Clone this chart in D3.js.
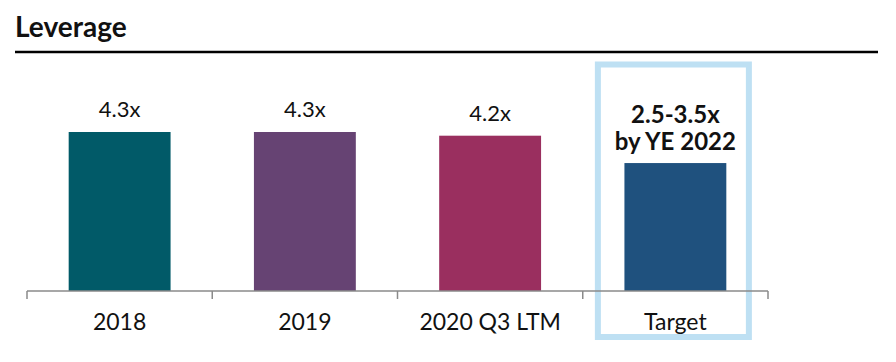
<!DOCTYPE html>
<html>
<head>
<meta charset="utf-8">
<script src="https://cdn.jsdelivr.net/npm/d3@7"></script>
<style>
  body { margin: 0; background: #fff; }
  text { font-family: Lato, "Open Sans", sans-serif; fill: #111; }
</style>
</head>
<body>
<svg id="chart" width="896" height="362"></svg>
<script>
"use strict";

// chart data
const categories = ["2018", "2019", "2020 Q3 LTM", "Target"];
const leverage = [4.3, 4.3, 4.2, 3.46];
const valueLabels = ["4.3x", "4.3x", "4.2x", null];
const targetLabel = ["2.5-3.5x", "by YE 2022"];
const barColors = ["#015a68", "#664373", "#9a2f5f", "#1f517e"];

const svg = d3.select("#chart");

// title + rule
svg.append("text")
    .attr("x", 15)
    .attr("y", 37)
    .attr("font-size", 28)
    .attr("font-weight", 700)
    .text("Leverage");

svg.append("line")
    .attr("x1", 15).attr("x2", 878)
    .attr("y1", 52).attr("y2", 52)
    .attr("stroke", "#000")
    .attr("stroke-width", 2.5);

const baseY = 291;

const x = d3.scaleBand()
    .domain(categories)
    .range([27, 768])
    .paddingInner(0.45)
    .paddingOuter(0.225);

const y = d3.scaleLinear()
    .domain([0, 4.3])
    .range([baseY, 132]);

// highlight box behind target
const tgt = categories[3];
const step = x.step();
const tx0 = x(tgt) + x.bandwidth() / 2;

svg.append("rect")
    .attr("x", tx0 - 77.5)
    .attr("y", 64.5)
    .attr("width", 151)
    .attr("height", 272.5)
    .attr("fill", "none")
    .attr("stroke", "#bee0f3")
    .attr("stroke-width", 6);

svg.selectAll(".bar")
    .data(categories)
    .enter().append("rect")
    .attr("class", "bar")
    .attr("x", d => x(d))
    .attr("width", x.bandwidth())
    .attr("y", (d, i) => y(leverage[i]))
    .attr("height", (d, i) => baseY - y(leverage[i]))
    .attr("fill", (d, i) => barColors[i]);

// axis
const axis = svg.append("g")
    .attr("transform", `translate(0,${baseY})`);

axis.append("line")
    .attr("x1", 27).attr("x2", 768)
    .attr("stroke", "#8a8a8a")
    .attr("stroke-width", 1.5);

const tickXs = d3.range(categories.length + 1).map(i => 27 + i * step);
axis.selectAll(".tick")
    .data(tickXs)
    .enter().append("line")
    .attr("x1", d => d).attr("x2", d => d)
    .attr("y1", 0).attr("y2", 8)
    .attr("stroke", "#8a8a8a")
    .attr("stroke-width", 1.5);

axis.selectAll(".cat")
    .data(categories)
    .enter().append("text")
    .attr("x", d => x(d) + x.bandwidth() / 2)
    .attr("y", 39)
    .attr("text-anchor", "middle")
    .attr("font-size", 23)
    .text(d => d);

// value labels
svg.selectAll(".val")
    .data(categories.filter((d, i) => valueLabels[i]))
    .enter().append("text")
    .attr("x", d => x(d) + x.bandwidth() / 2)
    .attr("y", d => y(leverage[categories.indexOf(d)]) - 15)
    .attr("text-anchor", "middle")
    .attr("font-size", 22)
    .text(d => valueLabels[categories.indexOf(d)]);

svg.selectAll(".tgt")
    .data(targetLabel)
    .enter().append("text")
    .attr("x", tx0)
    .attr("y", (d, i) => 123 + i * 27)
    .attr("text-anchor", "middle")
    .attr("font-size", 24)
    .attr("font-weight", 700)
    .text(d => d);
</script>
</body>
</html>
